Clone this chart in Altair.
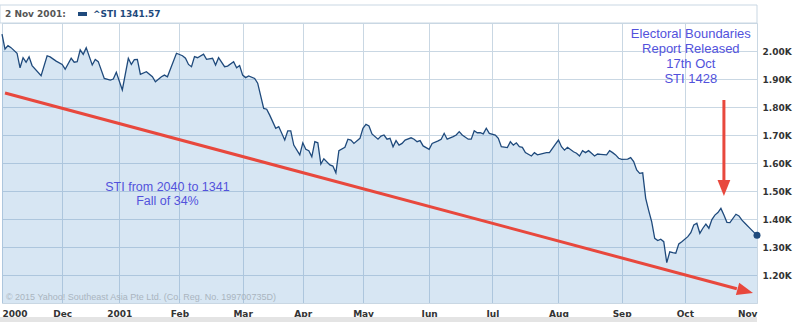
import altair as alt
import pandas as pd

# ---- data (trading-session index since 2 Nov 2000, STI close) ----
sessions = [0, 1, 2, 3, 5, 6, 7, 8, 9, 10, 13, 15, 16, 18, 20, 21, 23, 24, 25, 26,
            27, 28, 30, 31, 32, 34, 36, 37, 38, 40, 42, 43, 44, 45, 46, 48, 50, 51, 53, 54,
            55, 58, 60, 61, 62, 63, 64, 65, 67, 68, 70, 71, 72, 74, 75, 77, 78, 79, 80, 81,
            82, 84, 85, 87, 88, 89, 91, 92, 94, 95, 96, 97, 99, 100, 101, 102, 103, 104, 105, 106,
            107, 109, 110, 111, 112, 114, 115, 116, 117, 119, 120, 121, 122, 123, 125, 126, 127, 128, 129, 130,
            131, 132, 133, 134, 136, 137, 138, 139, 140, 142, 143, 145, 146, 147, 148, 150, 151, 152, 153, 155,
            156, 157, 158, 159, 160, 161, 162, 164, 165, 166, 168, 169, 170, 171, 172, 173, 174, 176, 177, 178,
            179, 181, 182, 184, 185, 186, 187, 188, 190, 191, 192, 193, 194, 195, 196, 197, 198, 199, 201, 202,
            203, 204, 205, 206, 208, 209, 210, 211, 212, 213, 214, 215, 216, 217, 218, 219, 220, 221, 222, 223,
            224, 225, 226, 228, 229, 230, 231, 232, 233, 234, 235, 236, 237, 238, 239, 240, 241, 242, 244, 245,
            246, 247, 249, 251]
sti = [2060, 2007, 2019, 2012, 1992, 1940, 1976, 1960, 1979, 1948, 1912, 1983, 1979, 1964, 1952, 1935, 1974, 1960, 1962, 2004,
       1988, 2012, 1950, 1970, 1962, 1902, 1896, 1900, 1924, 1861, 1974, 1952, 1969, 1970, 1917, 1926, 1908, 1890, 1908, 1914,
       1908, 1992, 1983, 1974, 1952, 1944, 1980, 1976, 1989, 1970, 1974, 1950, 1976, 1944, 1946, 1962, 1940, 1948, 1914, 1905,
       1911, 1902, 1885, 1795, 1792, 1771, 1724, 1730, 1682, 1715, 1715, 1664, 1629, 1672, 1649, 1644, 1622, 1676, 1672, 1596,
       1615, 1593, 1589, 1565, 1644, 1656, 1685, 1682, 1670, 1688, 1724, 1738, 1732, 1704, 1685, 1696, 1700, 1685, 1688, 1658,
       1680, 1664, 1670, 1682, 1690, 1685, 1676, 1680, 1661, 1649, 1670, 1679, 1685, 1706, 1685, 1694, 1700, 1712, 1700, 1685,
       1685, 1715, 1708, 1708, 1704, 1724, 1706, 1700, 1688, 1658, 1655, 1676, 1664, 1672, 1658, 1656, 1637, 1625, 1637, 1629,
       1632, 1637, 1637, 1667, 1682, 1658, 1646, 1656, 1640, 1635, 1625, 1644, 1637, 1644, 1635, 1625, 1632, 1631, 1629, 1644,
       1637, 1629, 1617, 1613, 1614, 1619, 1605, 1575, 1563, 1565, 1474, 1430, 1390, 1331, 1323, 1328, 1319, 1244, 1283, 1280,
       1278, 1311, 1319, 1337, 1351, 1379, 1385, 1349, 1367, 1382, 1367, 1398, 1414, 1423, 1438, 1414, 1388, 1387, 1417, 1411,
       1396, 1385, 1363, 1341.57]

tick_sessions = [0, 20, 39, 59, 80, 100, 120, 142, 163, 185, 206, 227, 251]
tick_labels = ["2000", "Dec", "2001", "Feb", "Mar", "Apr", "May", "Jun", "Jul", "Aug", "Sep", "Oct", "Nov"]
y_ticks = [1200, 1300, 1400, 1500, 1600, 1700, 1800, 1900, 2000]

# annotation arrows (trend line and event marker)
arrow_ids = ["trend", "trend", "event", "event"]
arrow_sessions = [1, 244.3, 240, 240]
arrow_values = [1850, 1151, 1825, 1532]
head_sessions = [247.1, 240]
head_values = [1143, 1511]
head_angles = [15, 90]

event_note = "Electoral Boundaries\nReport Released\n17th Oct\nSTI 1428"
fall_note = "STI from 2040 to 1341\nFall of 34%"
copyright_note = "\u00a9 2015 Yahoo! Southeast Asia Pte Ltd. (Co. Reg. No. 199700735D)"
header_date = "2 Nov 2001:"
header_series = "^STI 1341.57"

GRID = "#c9d7e3"
RED = "#e8483d"
NAVY = "#1f4a7c"
NOTE = "#5252dc"

df = pd.DataFrame({"session": sessions, "sti": sti})
last_df = df.tail(1)
arrows_df = pd.DataFrame({"id": arrow_ids, "session": arrow_sessions, "sti": arrow_values})
heads_df = pd.DataFrame({"session": head_sessions, "sti": head_values, "angle": head_angles})

x_scale = alt.Scale(domain=[0, 251], nice=False, zero=False)
y_scale = alt.Scale(domain=[1100, 2100], nice=False, zero=False)

label_expr = ("[" + ",".join(f"'{l}'" for l in tick_labels) + "][indexof(["
              + ",".join(str(t) for t in tick_sessions) + "], datum.value)]")

x_axis = alt.Axis(values=tick_sessions, labelExpr=label_expr, title=None, domain=False,
                  ticks=False, tickSize=0, labelPadding=6, labelFlush=True,
                  labelFont="DejaVu Sans", labelFontWeight="bold", labelFontSize=9,
                  labelColor="#333333", grid=True, gridColor=GRID, labelOverlap=False)
y_axis = alt.Axis(orient="right", values=y_ticks,
                  labelExpr="format(datum.value/1000, '.2f') + 'K'", title=None,
                  domain=False, ticks=False, tickSize=0, labelPadding=5,
                  labelFont="DejaVu Sans", labelFontWeight="bold", labelFontSize=9,
                  labelColor="#333333", grid=True, gridColor=GRID, labelOverlap=False)

X = alt.X("session:Q", scale=x_scale, axis=x_axis)
Y = alt.Y("sti:Q", scale=y_scale, axis=y_axis)

area = alt.Chart(df).mark_area(color="#4a8cc7", fillOpacity=0.22).encode(
    x=X, y=Y, y2=alt.datum(1100))
line = alt.Chart(df).mark_line(color=NAVY, strokeWidth=1.3).encode(x=X, y=Y)
dot = alt.Chart(last_df).mark_circle(color=NAVY, size=49, opacity=1).encode(x=X, y=Y)

arrows = alt.Chart(arrows_df).mark_line(color=RED, strokeWidth=3).encode(
    x=X, y=Y, detail="id:N")
heads = alt.Chart(heads_df).mark_point(
    shape="M1,0L-1,-0.8L-1,0.8Z", filled=True, size=256, color=RED, opacity=1
).encode(x=X, y=Y, angle=alt.Angle("angle:Q", scale=None))

event_text = alt.Chart(pd.DataFrame({"session": [229], "sti": [2061], "t": [event_note]})).mark_text(
    font="Liberation Sans", fontSize=13, color=NOTE, align="center", baseline="middle",
    lineBreak="\n", lineHeight=15
).encode(x=X, y=Y, text="t:N")
fall_text = alt.Chart(pd.DataFrame({"session": [55], "sti": [1514], "t": [fall_note]})).mark_text(
    font="Liberation Sans", fontSize=12.5, color=NOTE, align="center", baseline="middle",
    lineBreak="\n", lineHeight=14
).encode(x=X, y=Y, text="t:N")
copy_text = alt.Chart(pd.DataFrame({"session": [1.3], "sti": [1121], "t": [copyright_note]})).mark_text(
    font="Liberation Sans", fontSize=9, color="#aab5bf", align="left", baseline="middle"
).encode(x=X, y=Y, text="t:N")

# header strip
header_box = alt.Chart(pd.DataFrame({"k": [0]})).mark_rect(
    fillOpacity=0, stroke=GRID, strokeWidth=1
).encode(x=alt.value(-2), x2=alt.value(755), y=alt.value(-18), y2=alt.value(0))
header_date_t = alt.Chart(pd.DataFrame({"t": [header_date]})).mark_text(
    font="DejaVu Sans", fontWeight="bold", fontSize=9, color="#555555", align="left", baseline="middle"
).encode(x=alt.value(3), y=alt.value(-9), text="t:N")
header_key = alt.Chart(pd.DataFrame({"k": [0]})).mark_rect(color=NAVY).encode(
    x=alt.value(76), x2=alt.value(85), y=alt.value(-11), y2=alt.value(-7))
header_series_t = alt.Chart(pd.DataFrame({"t": [header_series]})).mark_text(
    font="DejaVu Sans", fontWeight="bold", fontSize=9, color=NAVY, align="left", baseline="middle"
).encode(x=alt.value(91), y=alt.value(-9), text="t:N")
bottom_strip = alt.Chart(pd.DataFrame({"k": [0]})).mark_rect(color="#e4e4e4").encode(
    x=alt.value(-2), x2=alt.value(755), y=alt.value(294), y2=alt.value(299))

chart = alt.layer(
    area, line, arrows, heads, dot, event_text, fall_text, copy_text,
    header_box, header_date_t, header_key, header_series_t, bottom_strip
).properties(
    width=755, height=280,
    padding={"left": 2, "top": 23, "right": 39, "bottom": 19},
    autosize=alt.AutoSizeParams(type="none"),
    background="white"
).configure_view(stroke=GRID, strokeWidth=1)

chart.save("out.html", embed_options={"renderer": "svg", "actions": False})
